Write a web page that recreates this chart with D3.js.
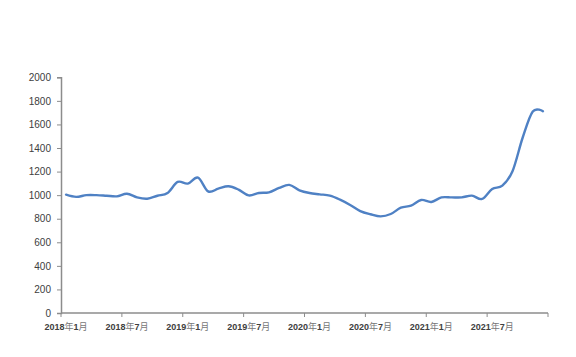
<!DOCTYPE html>
<html><head><meta charset="utf-8">
<script src="https://cdn.jsdelivr.net/npm/d3@7"></script>
<style>body{margin:0;background:#fff}svg{display:block}</style>
</head><body>
<svg id="c" width="576" height="357"></svg>
<script>
const months = [];
for (let yr = 2018; yr <= 2021; yr++) for (let m = 1; m <= 12; m++) months.push(yr + "年" + m + "月");
const values = [1004,985,1000,1000,995,990,1012,981,970,995,1018,1112,1098,1149,1032,1055,1075,1047,998,1018,1024,1061,1087,1041,
  1018,1007,996,962,917,865,838,820,840,894,911,959,942,981,981,981,996,968,1053,1081,1203,1487,1710,1712];
const yTicks = [0,200,400,600,800,1000,1200,1400,1600,1800,2000];
const xLabels = ["2018年1月","2018年7月","2019年1月","2019年7月","2020年1月","2020年7月","2021年1月","2021年7月"];

(function() {
const svg = d3.select("#c");
const mLeft = 61, mRight = 548, mTop = 77.3, mBottom = 313;
const x = d3.scaleBand().domain(months).range([mLeft, mRight]).padding(0);
const y = d3.scaleLinear().domain([0, 2000]).range([mBottom, mTop]);
const axisColor = "#8c8c8c";

// y axis
const ya = svg.append("g").attr("transform", `translate(${mLeft},0)`)
  .call(d3.axisLeft(y).tickValues(yTicks).tickFormat(d3.format("d")).tickSize(4).tickPadding(6));
ya.select(".domain").attr("stroke", axisColor).attr("stroke-width", 1.5);
ya.selectAll(".tick line").attr("stroke", axisColor);
ya.selectAll("text").attr("fill", "#404040").style("font-family", "Arial, 'Liberation Sans', sans-serif").style("font-size", "10px");

// x axis line and ticks every 6 months at category boundaries
const xa = svg.append("g");
xa.append("line").attr("x1", mLeft).attr("x2", mRight).attr("y1", mBottom).attr("y2", mBottom)
  .attr("stroke", axisColor).attr("stroke-width", 1.5);
const boundaries = months.filter((d, i) => i % 6 === 0).map(d => x(d)).concat([x(months[months.length - 1]) + x.bandwidth()]);
xa.selectAll("line.t").data(boundaries).join("line").attr("class", "t")
  .attr("x1", d => d).attr("x2", d => d).attr("y1", mBottom).attr("y2", mBottom + 4)
  .attr("stroke", axisColor);
const lab = xa.selectAll("text").data(xLabels).join("text")
  .attr("x", d => x(d) + x.bandwidth() / 2).attr("y", mBottom + 17)
  .attr("text-anchor", "middle").attr("fill", "#404040")
  .style("font-family", "Arial, 'Liberation Sans', sans-serif").style("font-size", "9px");
lab.each(function(d) {
  const m = d.match(/^(\d+)(年)(\d+)(月)$/);
  const t = d3.select(this);
  t.append("tspan").attr("font-weight", "bold").text(m[1]);
  t.append("tspan").attr("fill", "#777").style("font-family", "'Noto Sans CJK SC', sans-serif").text(m[2]);
  t.append("tspan").attr("font-weight", "bold").text(m[3]);
  t.append("tspan").attr("fill", "#777").style("font-family", "'Noto Sans CJK SC', sans-serif").text(m[4]);
});

// line
const line = d3.line()
  .x((d, i) => x(months[i]) + x.bandwidth() / 2)
  .y(d => y(d))
  .curve(d3.curveCardinal.tension(0));
svg.append("path").datum(values).attr("d", line)
  .attr("fill", "none").attr("stroke", "#4f81c4").attr("stroke-width", 2.4)
  .attr("stroke-linejoin", "round").attr("stroke-linecap", "round");
})();
</script>
</body></html>
